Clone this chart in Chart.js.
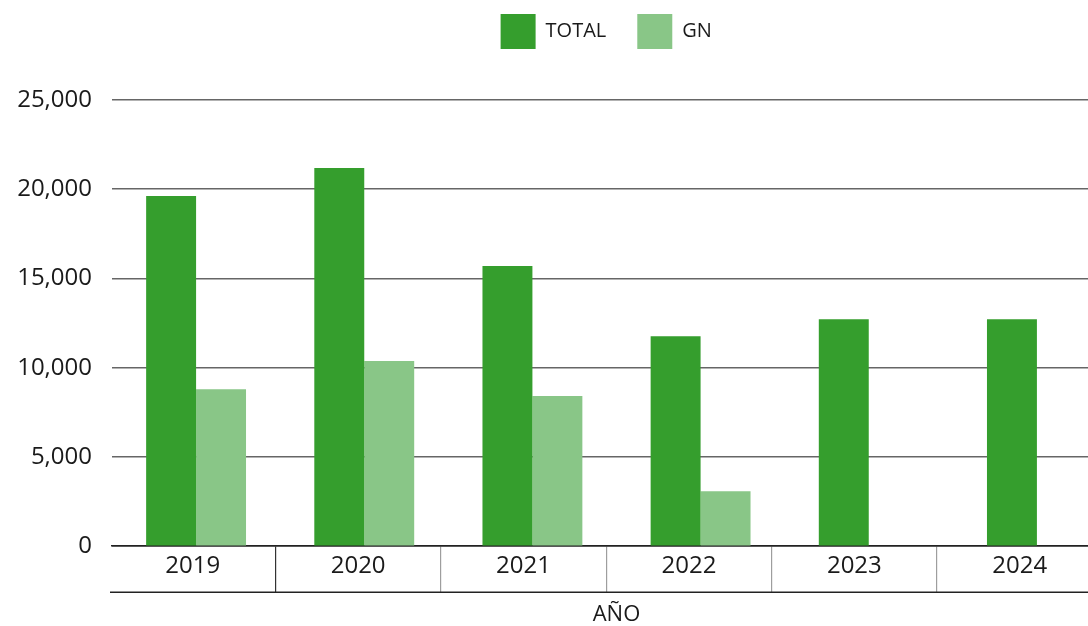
<!DOCTYPE html>
<html lang="es">
<head>
<meta charset="utf-8">
<script src="https://cdn.jsdelivr.net/npm/chart.js@4.4.1/dist/chart.umd.min.js"></script>
<style>
    html, body { margin: 0; padding: 0; background: #fff; overflow: hidden; }
    /* el área de la gráfica sigue un poco más allá del borde derecho */
    .contenedor { position: relative; width: 1121px; height: 626px; }
</style>
</head>
<body>
<div class="contenedor"><canvas id="aniosChart"></canvas></div>
<script>
// Datos
const anios = ['2019', '2020', '2021', '2022', '2023', '2024'];
const total = [19620, 21190, 15700, 11770, 12720, 12720];
const gn = [8800, 10370, 8410, 3080, null, null];
const ticksY = [0, 5000, 10000, 15000, 20000, 25000];

const verdeOscuro = '#359e2d';
const verdeClaro = '#89c687';
const texto = '#1a1a1a';
const fuente = "'Open Sans', 'Noto Sans', sans-serif";

// línea que cierra la tabla de años por abajo
const lineaInferior = {
    id: 'lineaInferior',
    afterDraw(chart) {
        const s = chart.scales.x2;
        const y = s.top + s.options.grid.tickLength;
        const ctx = chart.ctx;
        ctx.save();
        ctx.strokeStyle = '#222';
        ctx.lineWidth = 1.5;
        ctx.beginPath();
        ctx.moveTo(s.left - 2, y);
        ctx.lineTo(s.right, y);
        ctx.stroke();
        ctx.restore();
    }
};

// la leyenda va centrada sobre la tabla de años, no sobre todo el lienzo
const leyendaSobreTabla = {
    id: 'leyendaSobreTabla',
    afterLayout(chart) {
        const s = chart.scales.x2;
        const l = chart.legend;
        const centroTabla = (s.getPixelForValue(0) + s.getPixelForValue(anios.length)) / 2;
        const d = centroTabla - (l.left + l.right) / 2;
        l.left += d;
        l.right += d;
    }
};

// Gráfico por año
const aniosCtx = document.getElementById('aniosChart').getContext('2d');
new Chart(aniosCtx, {
    type: 'bar',
    data: {
        labels: anios,
        datasets: [{
            label: 'TOTAL',
            data: total,
            backgroundColor: verdeOscuro,
            borderWidth: 0,
            categoryPercentage: 0.594,
            barPercentage: 1
        }, {
            label: 'GN',
            data: gn,
            backgroundColor: verdeClaro,
            borderWidth: 0,
            categoryPercentage: 0.594,
            barPercentage: 1
        }]
    },
    plugins: [lineaInferior, leyendaSobreTabla],
    options: {
        responsive: true,
        maintainAspectRatio: false,
        animation: false,
        layout: {
            padding: { top: -17, left: 0, right: 0, bottom: 0 }
        },
        plugins: {
            legend: {
                position: 'top',
                fullSize: false,
                labels: {
                    boxWidth: 35,
                    boxHeight: 35,
                    padding: 31,
                    color: texto,
                    font: { family: fuente, size: 20 }
                }
            },
            // solo deja espacio entre la leyenda y el área de la gráfica
            title: {
                display: true,
                text: '',
                weight: 500,
                padding: 0,
                font: { size: 41, lineHeight: 1 }
            },
            tooltip: { enabled: false }
        },
        scales: {
            x: {
                display: false
            },
            x2: {
                type: 'linear',
                position: 'bottom',
                offset: false,
                min: 0.012,
                max: 6.112,
                afterBuildTicks: (scale) => {
                    const t = [];
                    for (let i = 0; i <= anios.length * 2; i++) t.push({ value: i / 2 });
                    scale.ticks = t;
                },
                border: { display: true, color: '#222', width: 1.5 },
                grid: {
                    offset: false,
                    drawOnChartArea: false,
                    drawTicks: true,
                    tickLength: 46,
                    lineWidth: 1.2,
                    color: (ctx) => {
                        const v = ctx.tick ? ctx.tick.value : 0;
                        if (!Number.isInteger(v) || v === 0) return 'rgba(0,0,0,0)';
                        return v === 1 ? '#333' : '#9e9e9e';
                    }
                },
                ticks: {
                    padding: -40,
                    maxRotation: 0,
                    autoSkip: false,
                    color: texto,
                    font: { family: fuente, size: 24 },
                    callback: (value) => Number.isInteger(value) ? '' : anios[Math.floor(value)]
                },
                title: {
                    display: true,
                    text: 'AÑO',
                    color: texto,
                    padding: { top: 63, bottom: 0 },
                    font: { family: fuente, size: 22, lineHeight: 1 }
                }
            },
            y: {
                min: 0,
                max: 25000,
                afterBuildTicks: (scale) => {
                    scale.ticks = ticksY.map(v => ({ value: v }));
                },
                afterFit: (scale) => { scale.width = 112; },
                border: { display: false },
                grid: {
                    drawTicks: false,
                    lineWidth: 1.5,
                    color: (ctx) => ctx.tick && ctx.tick.value === 0 ? '#222' : '#666'
                },
                ticks: {
                    padding: 20,
                    color: texto,
                    font: { family: fuente, size: 24 },
                    callback: (value) => value.toLocaleString('en-US')
                }
            }
        }
    }
});
</script>
</body>
</html>
